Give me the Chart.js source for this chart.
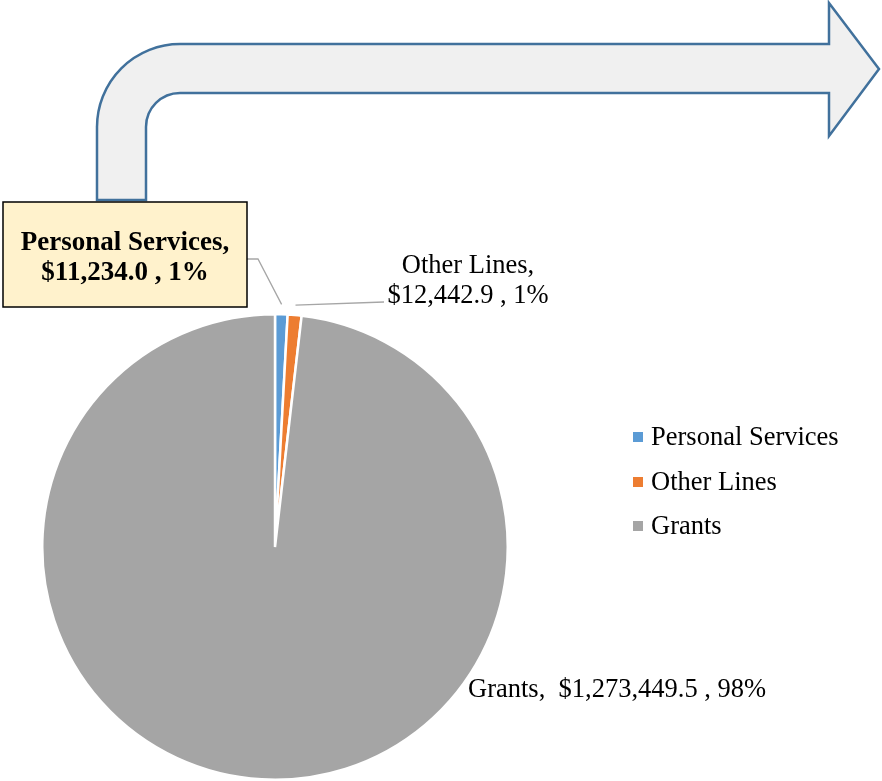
<!DOCTYPE html>
<html>
<head>
<meta charset="utf-8">
<script src="https://cdn.jsdelivr.net/npm/chart.js@4/dist/chart.umd.min.js"></script>
<style>
  html, body { margin: 0; padding: 0; background: #fff; }
  #wrap { width: 882px; height: 781px; position: relative; }
</style>
</head>
<body>
<div id="wrap"><canvas id="pie"></canvas></div>
<script>
// chart data
const categories = ['Personal Services', 'Other Lines', 'Grants'];
const amounts = [11234.0, 12442.9, 1273449.5];
const colors = ['#5B9BD5', '#ED7D31', '#A5A5A5'];

const serif = '"Liberation Serif", "Times New Roman", serif';

function money(v) {
  return '$' + v.toLocaleString('en-US', { minimumFractionDigits: 1, maximumFractionDigits: 1 });
}

function pct(i) {
  let total = amounts.reduce(function (a, b) { return a + b; }, 0);
  return Math.round(amounts[i] / total * 100) + '%';
}

// point just outside the slice, at its middle angle
function slicePoint(chart, i, extra) {
  let arc = chart.getDatasetMeta(0).data[i];
  let a = (arc.startAngle + arc.endAngle) / 2;
  return { x: arc.x + Math.cos(a) * (arc.outerRadius + extra), y: arc.y + Math.sin(a) * (arc.outerRadius + extra) };
}

/* bent arrow behind the pie */
const arrowPlugin = {
  id: 'arrow',
  beforeDraw: function (chart) {
    let ctx = chart.ctx;
    ctx.save();
    ctx.beginPath();
    ctx.moveTo(97, 200);
    ctx.lineTo(97, 126);
    ctx.arcTo(97, 44, 180, 44, 83);
    ctx.lineTo(829, 44);
    ctx.lineTo(829, 3);
    ctx.lineTo(879, 69);
    ctx.lineTo(829, 136);
    ctx.lineTo(829, 93);
    ctx.lineTo(180, 93);
    ctx.arcTo(146, 93, 146, 127, 34);
    ctx.lineTo(146, 200);
    ctx.closePath();
    ctx.fillStyle = '#F0F0F0';
    ctx.fill();
    ctx.strokeStyle = '#41719C';
    ctx.lineWidth = 2.5;
    ctx.stroke();
    ctx.restore();
  }
};

/* data labels, leader lines and legend */
const labelPlugin = {
  id: 'labels',
  afterDraw: function (chart) {
    let ctx = chart.ctx;
    ctx.save();

    // leader lines
    ctx.strokeStyle = '#A6A6A6';
    ctx.lineWidth = 1.3;
    let p0 = slicePoint(chart, 0, 10);
    ctx.beginPath();
    ctx.moveTo(247, 259);
    ctx.lineTo(258, 259);
    ctx.lineTo(p0.x, p0.y);
    ctx.stroke();
    let p1 = slicePoint(chart, 1, 10);
    ctx.beginPath();
    ctx.moveTo(384, 302);
    ctx.lineTo(p1.x, p1.y);
    ctx.stroke();

    // personal services callout box
    ctx.fillStyle = '#FFF2CC';
    ctx.fillRect(3, 202, 244, 105);
    ctx.strokeStyle = '#000';
    ctx.lineWidth = 1.5;
    ctx.strokeRect(3, 202, 244, 105);
    ctx.fillStyle = '#000';
    ctx.textAlign = 'center';
    ctx.textBaseline = 'alphabetic';
    ctx.font = 'bold 27px ' + serif;
    ctx.fillText(categories[0] + ',', 125, 250);
    ctx.fillText(money(amounts[0]) + ' , ' + pct(0), 125, 280);

    // other lines label
    ctx.font = '26.5px ' + serif;
    ctx.fillText(categories[1] + ',', 468, 273);
    ctx.fillText(money(amounts[1]) + ' , ' + pct(1), 468, 303);

    // grants label
    ctx.textAlign = 'left';
    ctx.fillText(categories[2] + ',  ' + money(amounts[2]) + ' , ' + pct(2), 468, 697);

    // legend
    let rows = [445, 490, 534];
    categories.forEach(function (name, i) {
      ctx.fillStyle = colors[i];
      ctx.fillRect(633, rows[i] - 13, 10, 10);
      ctx.fillStyle = '#000';
      ctx.fillText(name, 651, rows[i]);
    });

    ctx.restore();
  }
};

new Chart(document.getElementById('pie'), {
  type: 'pie',
  data: {
    labels: categories,
    datasets: [{
      data: amounts,
      backgroundColor: colors,
      borderColor: '#FFFFFF',
      borderWidth: 2.5
    }]
  },
  options: {
    responsive: true,
    maintainAspectRatio: false,
    animation: false,
    layout: {
      padding: { left: 41, right: 373, top: 313, bottom: 0 }
    },
    plugins: {
      legend: { display: false },
      tooltip: { enabled: false }
    }
  },
  plugins: [arrowPlugin, labelPlugin]
});
</script>
</body>
</html>
